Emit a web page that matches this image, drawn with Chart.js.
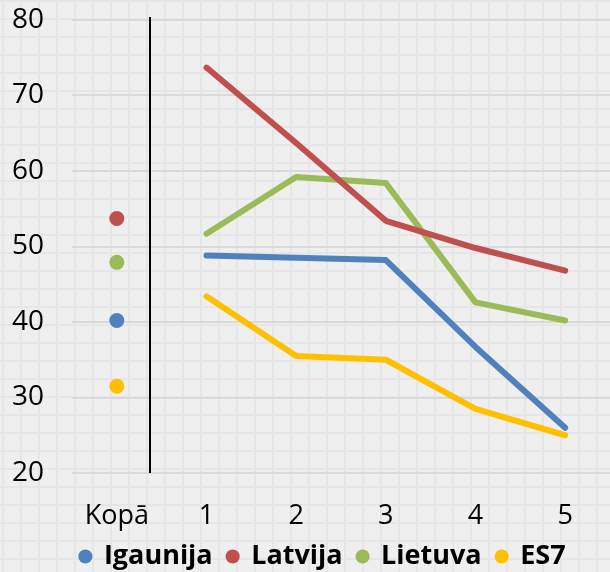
<!DOCTYPE html>
<html>
<head>
<meta charset="utf-8">
<script src="https://cdn.jsdelivr.net/npm/chart.js@4.4.1/dist/chart.umd.min.js"></script>
<style>
    html, body {
        margin: 0;
        padding: 0;
    }
    body {
        width: 610px;
        height: 572px;
        overflow: hidden;
        background-color: #efefef;
        background-image:
            linear-gradient(to right, #e6e6e6 2px, transparent 2px),
            linear-gradient(to bottom, #e6e6e6 2px, transparent 2px);
        background-size: 18px 18px;
        background-position: 2px 0;
    }
    .wrap {
        position: relative;
        width: 610px;
        height: 572px;
    }
</style>
</head>
<body>
<div class="wrap"><canvas id="mainChart"></canvas></div>
<script>
// Categories and series
const categories = ['Kopā', '1', '2', '3', '4', '5'];
const igaunija = [40.2, 48.8, 48.5, 48.2, 36.7, 26.0];
const latvija  = [53.7, 73.7, 63.7, 53.4, 49.8, 46.8];
const lietuva  = [47.9, 51.7, 59.2, 58.4, 42.6, 40.2];
const es7      = [31.5, 43.4, 35.5, 35.0, 28.5, 25.0];

const seriesNames = ['Igaunija', 'Latvija', 'Lietuva', 'ES7'];
const seriesColors = ['#4f81bd', '#c0504d', '#9bbb59', '#ffc000'];
const seriesData = [igaunija, latvija, lietuva, es7];

const yMin = 20, yMax = 80, yStep = 10;

// "Kopā" is shown as a lone dot, the rest as a line
function makeDataset(i) {
    const color = seriesColors[i];
    return {
        label: seriesNames[i],
        data: seriesData[i],
        borderColor: color,
        backgroundColor: color,
        borderWidth: 6,
        borderCapStyle: 'round',
        borderJoinStyle: 'round',
        tension: 0,
        pointRadius: seriesData[i].map((_, k) => k === 0 ? 7.5 : 0),
        pointHoverRadius: 0,
        pointBorderWidth: 0,
        pointBackgroundColor: color,
        segment: {
            borderColor: ctx => ctx.p0DataIndex === 0 ? 'transparent' : color
        }
    };
}

// Black divider between "Kopā" and the numbered groups
const dividerPlugin = {
    id: 'divider',
    afterLayout(chart) {
        // legend sits a bit right of centre in the original
        if (chart.legend) {
            chart.legend.left += 10;
            chart.legend.right += 10;
        }
    },
    afterDatasetsDraw(chart) {
        const { ctx, chartArea, scales } = chart;
        const x0 = scales.x.getPixelForValue(0);
        const x1 = scales.x.getPixelForValue(1);
        const x = Math.round(x0 + (x1 - x0) * 0.37);
        ctx.save();
        ctx.strokeStyle = '#000';
        ctx.lineWidth = 2;
        ctx.beginPath();
        ctx.moveTo(x, chartArea.top - 3);
        ctx.lineTo(x, chartArea.bottom);
        ctx.stroke();
        ctx.restore();
    }
};

const ctx = document.getElementById('mainChart').getContext('2d');
new Chart(ctx, {
    type: 'line',
    data: {
        labels: categories,
        datasets: seriesData.map((_, i) => makeDataset(i))
    },
    plugins: [dividerPlugin],
    options: {
        responsive: true,
        maintainAspectRatio: false,
        animation: false,
        layout: {
            autoPadding: false,
            padding: { top: 0, left: 10, right: -6, bottom: -8 }
        },
        plugins: {
            tooltip: { enabled: false },
            legend: {
                position: 'bottom',
                labels: {
                    usePointStyle: true,
                    boxWidth: 10,
                    boxHeight: 10,
                    padding: 15,
                    color: '#000',
                    font: { family: 'Open Sans', size: 27, weight: 'bold' },
                    generateLabels: chart => chart.data.datasets.map((ds, i) => ({
                        text: ds.label,
                        fillStyle: seriesColors[i],
                        strokeStyle: seriesColors[i],
                        lineWidth: 0,
                        pointStyle: 'circle',
                        fontColor: '#000',
                        datasetIndex: i
                    }))
                }
            }
        },
        scales: {
            x: {
                offset: true,
                grid: { display: false, drawTicks: false },
                border: { display: false },
                ticks: {
                    color: '#000',
                    padding: 27,
                    maxRotation: 0,
                    font: { family: 'Open Sans', size: 27 }
                },
                afterFit: scale => {
                    scale.height = 55;
                    scale.paddingLeft = 0;
                    scale.paddingRight = 0;
                    // labels hang below the (short) axis box, don't clip them
                    scale._computeLabelArea = () => null;
                }
            },
            y: {
                min: yMin,
                max: yMax,
                grid: { color: '#d9d9d9', lineWidth: 2, drawTicks: false },
                border: { display: false },
                ticks: {
                    stepSize: yStep,
                    color: '#000',
                    padding: 28,
                    font: { family: 'Open Sans', size: 28 }
                },
                afterFit: scale => {
                    scale.width = 62;
                    scale.paddingTop = 20;
                    scale.paddingBottom = 0;
                }
            }
        }
    }
});
</script>
</body>
</html>
